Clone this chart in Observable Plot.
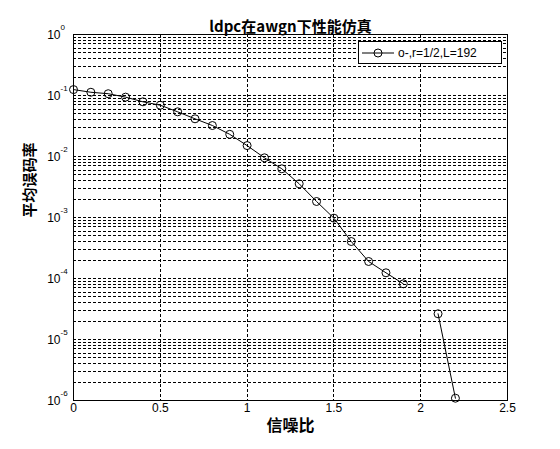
<!DOCTYPE html>
<html>
<head>
<meta charset="utf-8">
<script src="https://cdn.jsdelivr.net/npm/d3@7"></script>
<script src="https://cdn.jsdelivr.net/npm/@observablehq/plot@0.6"></script>
<style>
  body { margin: 0; background: #fff; }
  #wrap { position: relative; width: 560px; height: 449px; }
  #legend {
    position: absolute; left: 358px; top: 41px; width: 142px; height: 21px;
    border: 1px solid #000; background: #fff; display: flex; align-items: center;
    font-family: "Liberation Sans", Arial, sans-serif; font-size: 12px; color: #000;
  }
  #legend svg { display: block; margin-left: 3px; margin-right: 4px; }
</style>
</head>
<body>
<div id="wrap"></div>
<script>
// ---- data ----
const snr = [0, 0.1, 0.2, 0.3, 0.4, 0.5, 0.6, 0.7, 0.8, 0.9, 1.0, 1.1, 1.2, 1.3, 1.4, 1.5, 1.6, 1.7, 1.8, 1.9, 2.0, 2.1, 2.2];
const ber = [0.125, 0.113, 0.107, 0.094, 0.0788, 0.0693, 0.054, 0.0415, 0.0322, 0.0231, 0.0151, 0.00952, 0.00629, 0.00357, 0.00183, 0.000975, 0.000404, 0.00019, 0.000124, 0.0000818, null, 0.0000264, 0.00000109];
const xTicks = [0, 0.5, 1, 1.5, 2, 2.5];
const yExponents = [0, -1, -2, -3, -4, -5, -6];
const titleText = "ldpc在awgn下性能仿真";
const xLabel = "信噪比";
const yLabel = "平均误码率";
const legendText = "o-,r=1/2,L=192";

const data = snr.map((s, i) => ({snr: s, ber: ber[i]}));
const yDecades = yExponents.map(e => Math.pow(10, e));
const yMinor = [];
for (let e = -6; e < 0; e++) for (let m = 2; m <= 9; m++) yMinor.push(m * Math.pow(10, e));
const yGrid = yDecades.filter(d => d > 1e-6 && d < 1).concat(yMinor);
const xGrid = xTicks.filter(d => d > 0 && d < 2.5);

const latin = "'Liberation Sans', Arial, sans-serif";
const cjk = "'Noto Sans CJK SC', 'Liberation Sans', sans-serif";

const chart = Plot.plot({
  width: 560,
  height: 449,
  marginLeft: 73,
  marginRight: 53,
  marginTop: 34,
  marginBottom: 49,
  style: {background: "#fff", color: "#000"},
  x: {domain: [0, 2.5], axis: null},
  y: {type: "log", domain: [1e-6, 1], axis: null},
  marks: [
    Plot.ruleY(yGrid, {y: d => d, stroke: "#000", strokeWidth: 1, strokeDasharray: "3,2", shapeRendering: "crispEdges"}),
    Plot.ruleX(xGrid, {x: d => d, stroke: "#000", strokeWidth: 1, strokeDasharray: "3,2", shapeRendering: "crispEdges"}),
    Plot.frame({stroke: "#000", strokeWidth: 1, shapeRendering: "crispEdges"}),
    Plot.line(data, {x: "snr", y: "ber", stroke: "#000", strokeWidth: 1, defined: d => d.ber != null}),
    Plot.dot(data.filter(d => d.ber != null), {x: "snr", y: "ber", r: 4, stroke: "#000", fill: "none", strokeWidth: 1}),
    // y tick labels: "10" + superscript exponent
    Plot.text(yDecades, {y: d => d, frameAnchor: "left", text: () => "10", textAnchor: "end", dx: -13, dy: 1, fontSize: 12, fontFamily: latin, fill: "#000"}),
    Plot.text(yExponents, {y: (e) => Math.pow(10, e), frameAnchor: "left", text: e => String(e).replace("−", "-"), textAnchor: "start", dx: -13, dy: -7, fontSize: 8, fontFamily: latin, fill: "#000"}),
    // x tick labels
    Plot.text(xTicks, {x: d => d, frameAnchor: "bottom", text: d => String(d), dy: 11, fontSize: 12, fontFamily: latin, fill: "#000"}),
    // title & axis labels
    Plot.text([titleText], {frameAnchor: "top", text: d => d, dy: -13, fontSize: 15, fontWeight: "bold", fontFamily: cjk, fill: "#000"}),
    Plot.text([xLabel], {frameAnchor: "bottom", text: d => d, dy: 30, fontSize: 16, fontWeight: "bold", fontFamily: cjk, fill: "#000"}),
    Plot.text([yLabel], {frameAnchor: "left", text: d => d, dx: -43, rotate: -90, fontSize: 15, fontWeight: "bold", fontFamily: cjk, fill: "#000"})
  ]
});

const wrap = document.getElementById("wrap");
wrap.appendChild(chart);

const legend = document.createElement("div");
legend.id = "legend";
legend.innerHTML = `<svg width="32" height="12"><line x1="0" y1="6" x2="32" y2="6" stroke="#000" stroke-width="1"/><circle cx="16" cy="6" r="4" fill="none" stroke="#000" stroke-width="1"/></svg><span>${legendText}</span>`;
wrap.appendChild(legend);
</script>
</body>
</html>
